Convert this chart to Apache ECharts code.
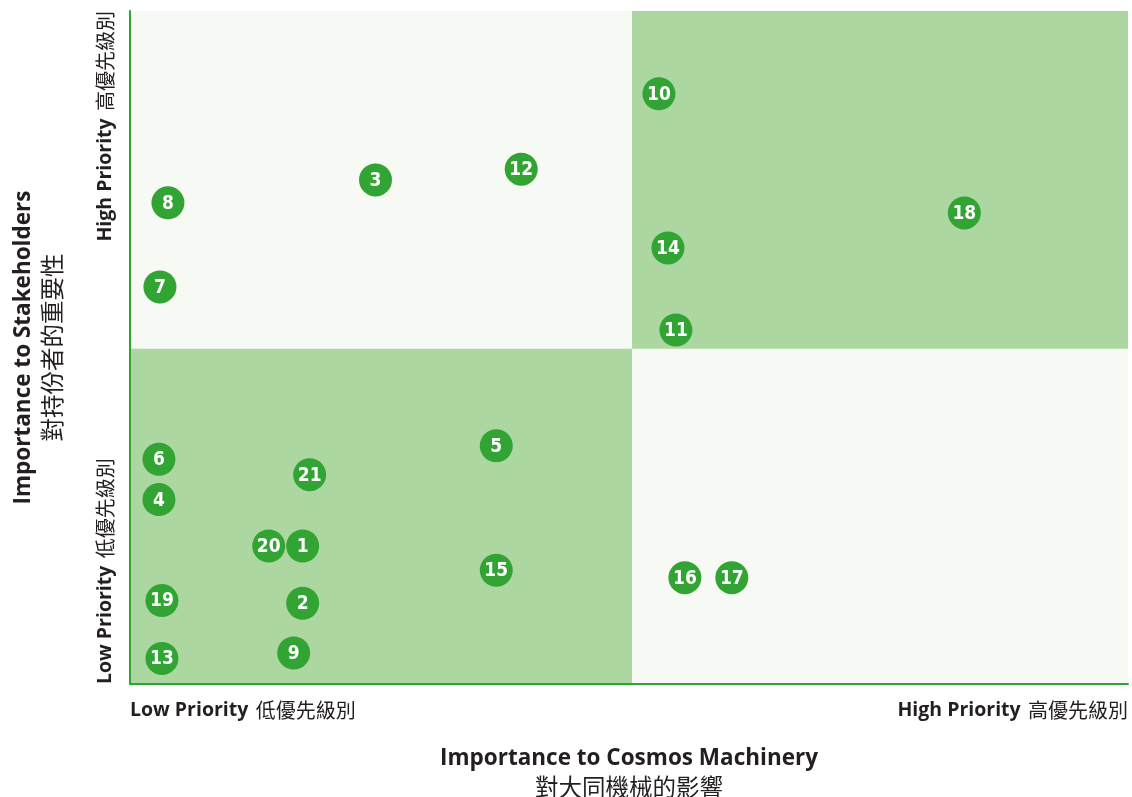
<!DOCTYPE html>
<html>
<head>
<meta charset="utf-8">
<script src="https://cdn.jsdelivr.net/npm/echarts@6/dist/echarts.min.js"></script>
<style>
html,body{margin:0;padding:0;background:#fff;}
#chart{width:1132px;height:797px;}
</style>
</head>
<body>
<div id="chart"></div>
<script>
// Topic ids and their positions (0-100 scale on both axes)
const topicIds = ['1','2','3','4','5','6','7','8','9','10','11','12','13','14','15','16','17','18','19','20','21'];
const xValues = [17.3, 17.3, 24.6, 2.9, 36.7, 2.9, 3.0, 3.8, 16.4, 53.0, 54.7, 39.2, 3.2, 53.9, 36.7, 55.6, 60.3, 83.6, 3.2, 13.9, 18.0];
const yValues = [20.5, 12.0, 74.9, 27.4, 35.4, 33.4, 59.0, 71.5, 4.6, 87.7, 52.6, 76.5, 3.8, 64.8, 16.9, 15.8, 15.8, 70.0, 12.4, 20.5, 31.1];

// Quadrant split lines
const xSplit = 50.3;
const ySplit = 49.8;

// Tick labels (min, max)
const xTickEn = ['Low Priority', 'High Priority'];
const xTickZh = ['低優先級別', '高優先級別'];
const yTickEn = ['Low Priority', 'High Priority'];
const yTickZh = ['低優先級別', '高優先級別'];

// Axis titles
const xTitleEn = 'Importance to Cosmos Machinery';
const xTitleZh = '對大同機械的影響';
const yTitleEn = 'Importance to Stakeholders';
const yTitleZh = '對持份者的重要性';

const GREEN_DARK = '#31a433';
const GREEN_LIGHT = '#acd7a0';
const PALE = '#f7f9f4';
const TEXT = '#231f20';
const EN_FONT = '"Open Sans", "Noto Sans", sans-serif';
const ZH_FONT = '"Noto Sans CJK TC", "Noto Sans CJK SC", sans-serif';

const tickRich = {
  en: { fontFamily: EN_FONT, fontWeight: 'bold', fontSize: 19.5, color: TEXT },
  zh: { fontFamily: ZH_FONT, fontWeight: 'normal', fontSize: 20, color: TEXT, padding: [0, 0, 0, 4] }
};

const titleRich = {
  a: { fontFamily: EN_FONT, fontWeight: 'bold', fontSize: 22.5, color: TEXT, lineHeight: 28 },
  b: { fontFamily: ZH_FONT, fontSize: 23.5, color: TEXT, lineHeight: 28 }
};

const points = topicIds.map((id, i) => ({ name: id, value: [xValues[i], yValues[i]] }));

const chart = echarts.init(document.getElementById('chart'), null, { renderer: 'canvas' });
chart.setOption({
  animation: false,
  grid: {
    left: 130, right: 4, top: 11, bottom: 113,
    outerBoundsMode: 'none',
    containLabel: false,
    show: true, backgroundColor: PALE, borderWidth: 0
  },
  xAxis: {
    type: 'value', min: 0, max: 100, interval: 100, z: 10,
    splitLine: { show: false },
    axisTick: { show: false },
    axisLine: { show: true, lineStyle: { color: GREEN_DARK, width: 2 } },
    axisLabel: {
      margin: 16,
      alignMinLabel: 'left',
      alignMaxLabel: 'right',
      formatter: v => {
        const i = v === 0 ? 0 : 1;
        return '{en|' + xTickEn[i] + '} {zh|' + xTickZh[i] + '}';
      },
      rich: tickRich
    },
    name: '{a|' + xTitleEn + '}\n{b|' + xTitleZh + '}',
    nameLocation: 'middle',
    nameGap: 61,
    nameTextStyle: { align: 'center', rich: titleRich }
  },
  yAxis: {
    type: 'value', min: 0, max: 100, interval: 100, z: 10,
    splitLine: { show: false },
    axisTick: { show: false },
    axisLine: { show: true, lineStyle: { color: GREEN_DARK, width: 2 } },
    axisLabel: {
      rotate: 90,
      margin: 15,
      alignMinLabel: 'left',
      alignMaxLabel: 'right',
      formatter: v => {
        const i = v === 0 ? 0 : 1;
        return '{en|' + yTickEn[i] + '} {zh|' + yTickZh[i] + '}';
      },
      rich: tickRich
    },
    name: '{a|' + yTitleEn + '}\n{b|' + yTitleZh + '}',
    nameLocation: 'middle',
    nameGap: 64,
    nameTextStyle: { align: 'center', rich: titleRich }
  },
  series: [{
    type: 'scatter',
    data: points,
    symbol: 'circle',
    symbolSize: 33,
    itemStyle: { color: GREEN_DARK, opacity: 1 },
    label: {
      show: true,
      position: 'inside',
      offset: [0, 1],
      formatter: p => p.name,
      color: '#ffffff',
      fontFamily: '"DejaVu Sans Condensed", "Liberation Sans Narrow", "Open Sans", sans-serif',
      fontWeight: 'bold',
      fontSize: 19
    },
    emphasis: { disabled: true },
    markArea: {
      silent: true,
      itemStyle: { color: GREEN_LIGHT, opacity: 1 },
      data: [
        [{ xAxis: 0, yAxis: 0 }, { xAxis: xSplit, yAxis: ySplit }],
        [{ xAxis: xSplit, yAxis: ySplit }, { xAxis: 100, yAxis: 100 }]
      ]
    }
  }]
});
</script>
</body>
</html>
